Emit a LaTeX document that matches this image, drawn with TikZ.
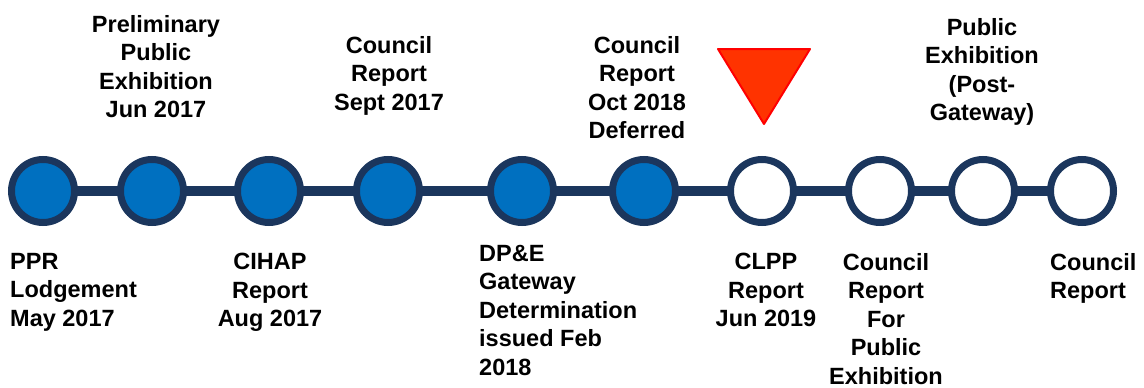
\documentclass[tikz,border=0pt]{standalone}
\usepackage{fontspec}
\setmainfont{Liberation Sans}
\usetikzlibrary{backgrounds}
\definecolor{navy}{HTML}{1B365D}
\definecolor{doneblue}{HTML}{0070C0}
\definecolor{flagred}{HTML}{FF3300}
\tikzset{
  mstone/.style={circle,draw=navy,line width=7pt,minimum size=63pt,inner sep=0pt},
  done/.style={mstone,fill=doneblue},
  todo/.style={mstone,fill=white},
  lbl/.style={font=\fontsize{23.5}{28.5}\selectfont\bfseries,inner sep=0pt,align=center,anchor=north},
  lbll/.style={lbl,align=left,anchor=north west}
}
\begin{document}
\begin{tikzpicture}[x=1pt,y=-1pt]
\pgfmathsetmacro{\ky}{191}
\pgfmathsetmacro{\kbot}{253}
\pgfmathsetmacro{\ktop}{36}
\useasboundingbox (0,0) rectangle (1144,388);
% milestones
\foreach \x [count=\i] in {43,152,269,388,522,644}{\node[done](m\i) at (\x,\ky){};}
\foreach \x [count=\i from 7] in {762,880,983,1082}{\node[todo](m\i) at (\x,\ky){};}
\begin{scope}[on background layer]
\foreach \i [remember=\i as \j (initially 1)] in {2,...,10}{\draw[navy,line width=10pt](m\j.center)--(m\i.center);}
\end{scope}
% current stage marker
\draw[fill=flagred,draw=red,line width=2pt,line join=round](718,49)--(810,49)--(764,124)--cycle;
% labels below
\node[lbll](l1) at (10,\kbot){PPR\\Lodgement\\May 2017};
\node[lbl](l3) at (270,\kbot){CIHAP\\Report\\Aug 2017};
\node[lbll](l5) at (479,245){DP\&E\\Gateway\\Determination\\issued Feb\\2018};
\node[lbl](l7) at (766,\kbot){CLPP\\Report\\Jun 2019};
\node[lbl](l8) at (886,\kbot){Council\\Report\\For\\Public\\Exhibition};
\node[lbll](l10) at (1050,\kbot){Council\\Report};
% labels above
\node[lbl](l2) at (156,15){Preliminary\\Public\\Exhibition\\Jun 2017};
\node[lbl](l4) at (389,\ktop){Council\\Report\\Sept 2017};
\node[lbl](l6) at (637,\ktop){Council\\Report\\Oct 2018\\Deferred};
\node[lbl](l9) at (982,18){Public\\Exhibition\\(Post-\\Gateway)};
\end{tikzpicture}
\end{document}
